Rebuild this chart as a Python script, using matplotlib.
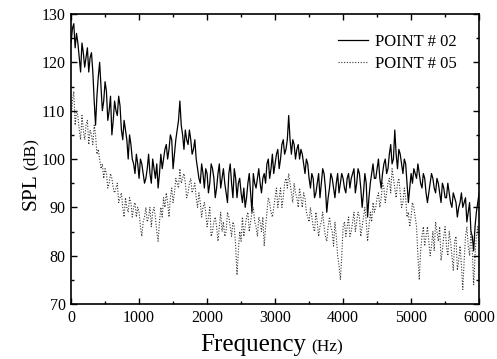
import numpy as np
import matplotlib
matplotlib.use("Agg")
import matplotlib.pyplot as plt
from matplotlib.ticker import MultipleLocator

plt.rcParams['font.family'] = ['Liberation Serif', 'DejaVu Serif']

freq = np.arange(0, 6001, 20)

point02 = [
    124, 127, 128, 123, 126, 124, 121, 118, 124, 122, 119, 121, 123, 118, 121, 122, 118, 112, 107, 113, 117, 120, 115, 110, 112,
    116, 114, 108, 110, 113, 105, 108, 112, 110, 109, 113, 111, 106, 104, 108, 106, 104, 100, 105, 103, 100, 99, 97, 101, 99,
    96, 100, 99, 97, 95, 96, 98, 101, 97, 95, 100, 98, 96, 99, 94, 97, 101, 98, 100, 102, 103, 100, 102, 105, 104,
    98, 101, 104, 106, 108, 112, 107, 105, 102, 106, 104, 103, 106, 104, 101, 102, 104, 100, 98, 96, 95, 99, 97, 94, 98,
    97, 93, 95, 99, 98, 96, 92, 94, 97, 99, 94, 96, 98, 95, 93, 91, 97, 99, 95, 92, 98, 96, 92, 95, 96,
    93, 91, 94, 90, 92, 95, 97, 93, 89, 97, 95, 94, 96, 98, 95, 93, 96, 97, 95, 99, 100, 96, 98, 101, 97,
    99, 101, 102, 98, 100, 103, 104, 101, 102, 104, 109, 104, 101, 104, 103, 100, 102, 103, 100, 102, 101, 99, 97, 100, 99,
    96, 94, 97, 96, 92, 93, 95, 97, 92, 95, 98, 97, 94, 89, 92, 94, 97, 96, 94, 92, 95, 97, 93, 95, 97,
    96, 94, 93, 96, 97, 94, 96, 97, 98, 93, 95, 98, 97, 94, 90, 93, 97, 95, 88, 92, 95, 97, 99, 96, 96,
    98, 100, 96, 94, 97, 99, 100, 97, 98, 101, 103, 99, 100, 106, 101, 98, 102, 101, 99, 97, 100, 99, 95, 91, 94,
    97, 95, 98, 97, 96, 99, 97, 95, 94, 97, 96, 93, 91, 93, 95, 97, 96, 94, 93, 96, 95, 93, 91, 95, 94,
    92, 92, 95, 93, 91, 90, 93, 92, 91, 88, 90, 91, 93, 90, 91, 92, 87, 89, 91, 85, 84, 81, 86, 89, 91,
    93,
]

point05 = [
    108, 112, 114, 107, 110, 109, 106, 104, 109, 106, 104, 107, 108, 103, 106, 105, 103, 107, 105, 101, 102, 100, 98, 99, 96,
    98, 97, 94, 95, 97, 96, 94, 93, 94, 95, 91, 92, 93, 90, 88, 92, 90, 89, 92, 91, 88, 90, 91, 88, 90,
    89, 86, 84, 87, 88, 90, 87, 88, 90, 86, 89, 90, 88, 85, 83, 87, 90, 88, 92, 90, 93, 91, 88, 92, 94,
    91, 93, 96, 95, 94, 98, 95, 96, 97, 95, 92, 93, 95, 96, 93, 94, 95, 92, 90, 93, 91, 88, 90, 91, 89,
    86, 88, 90, 84, 85, 87, 88, 86, 83, 86, 89, 85, 87, 84, 85, 89, 88, 86, 84, 87, 86, 82, 76, 81, 85,
    83, 88, 84, 86, 88, 89, 85, 87, 89, 90, 87, 86, 84, 88, 87, 85, 88, 82, 86, 89, 92, 91, 89, 88, 90,
    92, 94, 90, 92, 94, 90, 92, 95, 96, 94, 97, 95, 93, 91, 95, 93, 92, 90, 94, 92, 90, 93, 92, 89, 88,
    87, 90, 88, 86, 85, 89, 87, 84, 86, 87, 89, 86, 84, 83, 86, 88, 86, 85, 82, 87, 84, 80, 78, 75, 80,
    86, 87, 84, 86, 88, 84, 85, 87, 89, 85, 87, 89, 88, 84, 86, 88, 90, 87, 83, 86, 89, 87, 91, 89, 90,
    92, 93, 90, 92, 95, 94, 91, 93, 95, 96, 93, 98, 96, 94, 92, 95, 96, 93, 90, 91, 94, 92, 88, 89, 86,
    88, 91, 90, 88, 86, 80, 75, 81, 84, 86, 82, 84, 86, 83, 80, 82, 85, 81, 87, 85, 83, 86, 79, 81, 84,
    86, 82, 80, 85, 83, 80, 77, 83, 84, 77, 79, 82, 78, 73, 79, 84, 86, 82, 80, 85, 81, 74, 80, 84, 86,
    82,
]

labels = ["POINT # 02", "POINT # 05"]

fig = plt.figure(figsize=(4.97, 3.59), dpi=100)
ax = fig.add_axes([0.143, 0.153, 0.821, 0.808])

ax.plot(freq, point02, color='black', lw=0.9, label=labels[0])
ax.plot(freq, point05, color='#333333', lw=0.8, ls=(0, (1, 1.5)), label=labels[1])

ax.set_xlim(0, 6000)
ax.set_ylim(70, 130)
ax.xaxis.set_major_locator(MultipleLocator(1000))
ax.xaxis.set_minor_locator(MultipleLocator(500))
ax.yaxis.set_major_locator(MultipleLocator(10))
ax.yaxis.set_minor_locator(MultipleLocator(5))
ax.tick_params(which='both', direction='in', top=True, right=True, labelsize=11.5, width=1.0)
ax.tick_params(which='major', length=4, pad=4)
ax.tick_params(which='minor', length=2.5)
for s in ax.spines.values():
    s.set_linewidth(1.2)

fig.text(0.617, 0.022, "Frequency", fontsize=18, ha='right', va='baseline')
fig.text(0.627, 0.022, "(Hz)", fontsize=12.5, ha='left', va='baseline')
fig.text(0.062, 0.518, "SPL", fontsize=15.5, rotation=90, ha='center', va='top')
fig.text(0.062, 0.526, "(dB)", fontsize=12.5, rotation=90, ha='center', va='bottom')

leg = ax.legend(loc='upper right', frameon=False, fontsize=12, handlelength=1.8,
                bbox_to_anchor=(0.945, 0.93), borderaxespad=0, borderpad=0,
                labelspacing=0.35, handletextpad=0.4)

fig.savefig("out.png", dpi=100)
